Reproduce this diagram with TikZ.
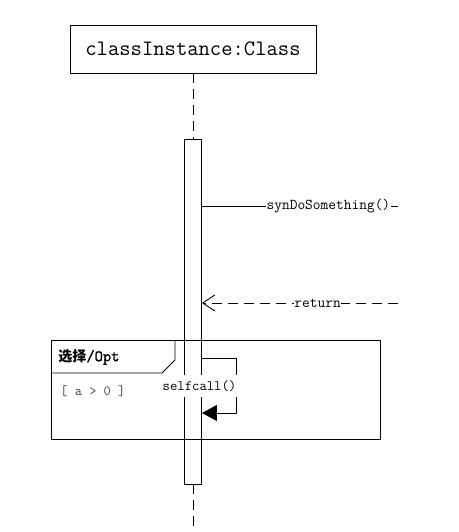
\documentclass[tikz,border=0pt]{standalone}
\usepackage{fontspec}
\newfontfamily\cjk{Noto Sans CJK SC}
\newfontfamily\ttbold{Latin Modern Mono}[FakeBold=1.5]
\usetikzlibrary{arrows.meta,positioning}

\begin{document}
\begin{tikzpicture}[x=1pt, y=-1pt, line width=0.9pt, objbox/.style={draw, font=\ttfamily\fontsize{22}{24}\selectfont, minimum width=246pt, minimum height=48pt, inner sep=0pt}, actbar/.style={draw, minimum width=17pt, minimum height=345pt, inner sep=0pt}, lifeline/.style={dash pattern=on 10pt off 6pt}, msgtext/.style={fill=white, inner xsep=0.5pt, inner ysep=2pt, font=\ttfamily\fontsize{15}{17}\selectfont}, optframe/.style={draw, minimum width=329pt, minimum height=99pt, inner sep=0pt}]
\useasboundingbox (0,0) rectangle (458,532);
\node[objbox] (obj) at (193,49) {classInstance:Class};
\node[actbar] (act) at (193,311.5) {};
\coordinate (bottom) at (193,532);
\draw[lifeline] (obj.south) -- (act.north);
\draw[lifeline] (act.south) -- (bottom);
% synchronous call and its return
\coordinate (synEnd) at (398,206);
\draw (act.east |- synEnd) -- node[msgtext, pos=0.645] {synDoSomething()} (synEnd);
\coordinate (retStart) at (398,303);
\draw[lifeline, -{Straight Barb[length=12pt, width=16pt]}] (retStart) -- node[msgtext, pos=0.41] {return} (act.east |- retStart);
% opt fragment
\node[optframe] (opt) at (215.5,389.5) {};
\draw (175,340) -- (175,360) -- (162,373) -- (opt.west |- 0,373);
\node[anchor=west, inner sep=0pt, font=\bfseries\fontsize{14}{16}\selectfont] (optlabel) at (58,357) {\cjk 选择\ttbold\fontsize{16}{18}\selectfont/Opt};
\node[anchor=west, inner sep=0pt, text=black!75, font=\ttfamily\fontsize{14}{16}\selectfont] (guard) at (60,391) {[ a > 0 ]};
% self call
\coordinate (selfTop) at (236,358);
\coordinate (selfBot) at (236,413);
\draw[-{Triangle[length=15pt, width=16pt]}] (act.east |- selfTop) -- (selfTop) -- (selfBot) -- (act.east |- selfBot);
\node[msgtext, inner ysep=5pt, font=\ttfamily\fontsize{14.3}{16}\selectfont] (selfcall) at (199.5,386) {selfcall()};
\end{tikzpicture}
\end{document}
